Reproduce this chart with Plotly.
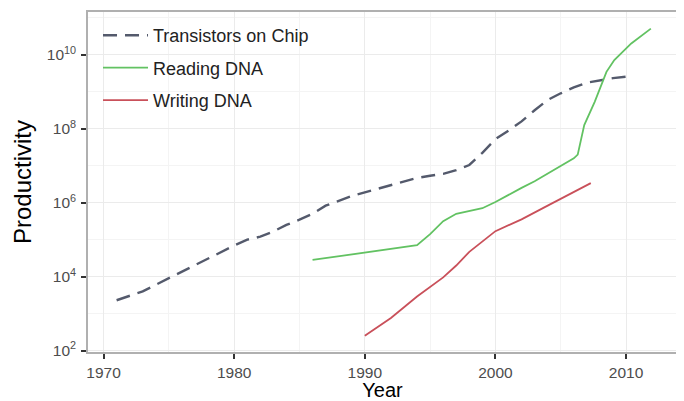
import plotly.graph_objects as go

# Transistors on chip (log10 values)
trans_years = [1971, 1972, 1973, 1974, 1975, 1976, 1977, 1978, 1979, 1980, 1981, 1982, 1983,
               1984, 1985, 1986, 1987, 1988, 1989, 1990, 1991, 1992, 1993, 1994, 1995, 1996,
               1997, 1998, 1999, 2000, 2001, 2002, 2003, 2004, 2005, 2006, 2007, 2008, 2009,
               2010, 2010.5]
trans_log = [3.36, 3.48, 3.6, 3.78, 3.96, 4.14, 4.32, 4.5, 4.68, 4.84, 5.0, 5.08, 5.22,
             5.4, 5.54, 5.7, 5.92, 6.05, 6.18, 6.28, 6.38, 6.47, 6.58, 6.67, 6.73, 6.78,
             6.88, 7.02, 7.35, 7.72, 7.95, 8.2, 8.5, 8.78, 8.96, 9.12, 9.25, 9.32, 9.37,
             9.41, 9.41]

# Reading DNA
read_years = [1986, 1988, 1990, 1992, 1994, 1995, 1996, 1997, 1998, 1999, 2000, 2001, 2002,
              2003, 2004, 2005, 2006, 2006.3, 2006.8, 2007.6, 2008.5, 2009.1, 2010.4, 2011.9]
read_log = [4.45, 4.55, 4.66, 4.76, 4.85, 5.15, 5.5, 5.7, 5.77, 5.85, 6.02, 6.22, 6.4,
            6.58, 6.78, 6.98, 7.2, 7.3, 8.1, 8.73, 9.54, 9.86, 10.31, 10.71]

# Writing DNA
write_years = [1990, 1992, 1994, 1996, 1997, 1998, 2000, 2002, 2004, 2006, 2007.3]
write_log = [2.4, 2.88, 3.46, 3.98, 4.3, 4.67, 5.23, 5.55, 5.92, 6.28, 6.53]

x_ticks = [1970, 1980, 1990, 2000, 2010]
y_tick_exp = [2, 4, 6, 8, 10]

fig = go.Figure()
fig.add_trace(go.Scatter(x=trans_years, y=[10 ** v for v in trans_log], mode="lines",
                         name="Transistors on Chip", legendgroup="a",
                         line=dict(color="#545a6c", width=2.4, dash="14px,8px")))
fig.add_trace(go.Scatter(x=read_years, y=[10 ** v for v in read_log], mode="lines",
                         name="Reading DNA", legendgroup="b",
                         line=dict(color="#62c262", width=1.8)))
fig.add_trace(go.Scatter(x=write_years, y=[10 ** v for v in write_log], mode="lines",
                         name="Writing DNA", legendgroup="c",
                         line=dict(color="#c9505a", width=1.8)))

grid = "#ebebeb"
tickfont = dict(size=15.5, color="#4d4d4d")
# page body has an 8px default margin, so the figure is sized to fit inside it
fig.update_layout(
    width=676, height=393,
    margin=dict(l=80, r=7, t=4, b=49),
    paper_bgcolor="white", plot_bgcolor="white",
    font=dict(family="Liberation Sans, Arial, sans-serif", color="#000"),
    showlegend=True,
    legend=dict(x=0.017, y=0.985, xanchor="left", yanchor="top",
                bgcolor="rgba(0,0,0,0)", font=dict(size=18, color="#222"),
                itemwidth=45, tracegroupgap=6, traceorder="grouped"),
    xaxis=dict(range=[1968.81, 2013.9], tickvals=x_ticks,
               ticktext=[str(t) for t in x_ticks], automargin=False,
               showgrid=True, gridcolor=grid, gridwidth=1,
               minor=dict(tickvals=[1975, 1985, 1995, 2005], showgrid=True,
                          gridcolor="#f4f4f4", ticklen=0),
               ticks="outside", ticklen=5, tickcolor="#333", tickwidth=1.5,
               ticklabelstandoff=1,
               tickfont=tickfont,
               showline=True, linecolor="#b0b0b0", linewidth=1.5, mirror=True,
               zeroline=False,
               title=dict(text="Year", font=dict(size=20), standoff=1)),
    yaxis=dict(type="log", range=[1.96, 11.16], automargin=False,
               tickvals=[10 ** e for e in y_tick_exp],
               ticktext=["10<sup>%d</sup>" % e for e in y_tick_exp],
               showgrid=True, gridcolor=grid, gridwidth=1,
               minor=dict(tickvals=[1e3, 1e5, 1e7, 1e9, 1e11], showgrid=True,
                          gridcolor="#f4f4f4", ticklen=0),
               ticks="outside", ticklen=5, tickcolor="#333", tickwidth=1.5,
               ticklabelstandoff=2,
               tickfont=tickfont,
               showline=True, linecolor="#b0b0b0", linewidth=1.5, mirror=True,
               zeroline=False,
               title=dict(text="Productivity", font=dict(size=24), standoff=8)),
)

fig.write_html("out.html")
